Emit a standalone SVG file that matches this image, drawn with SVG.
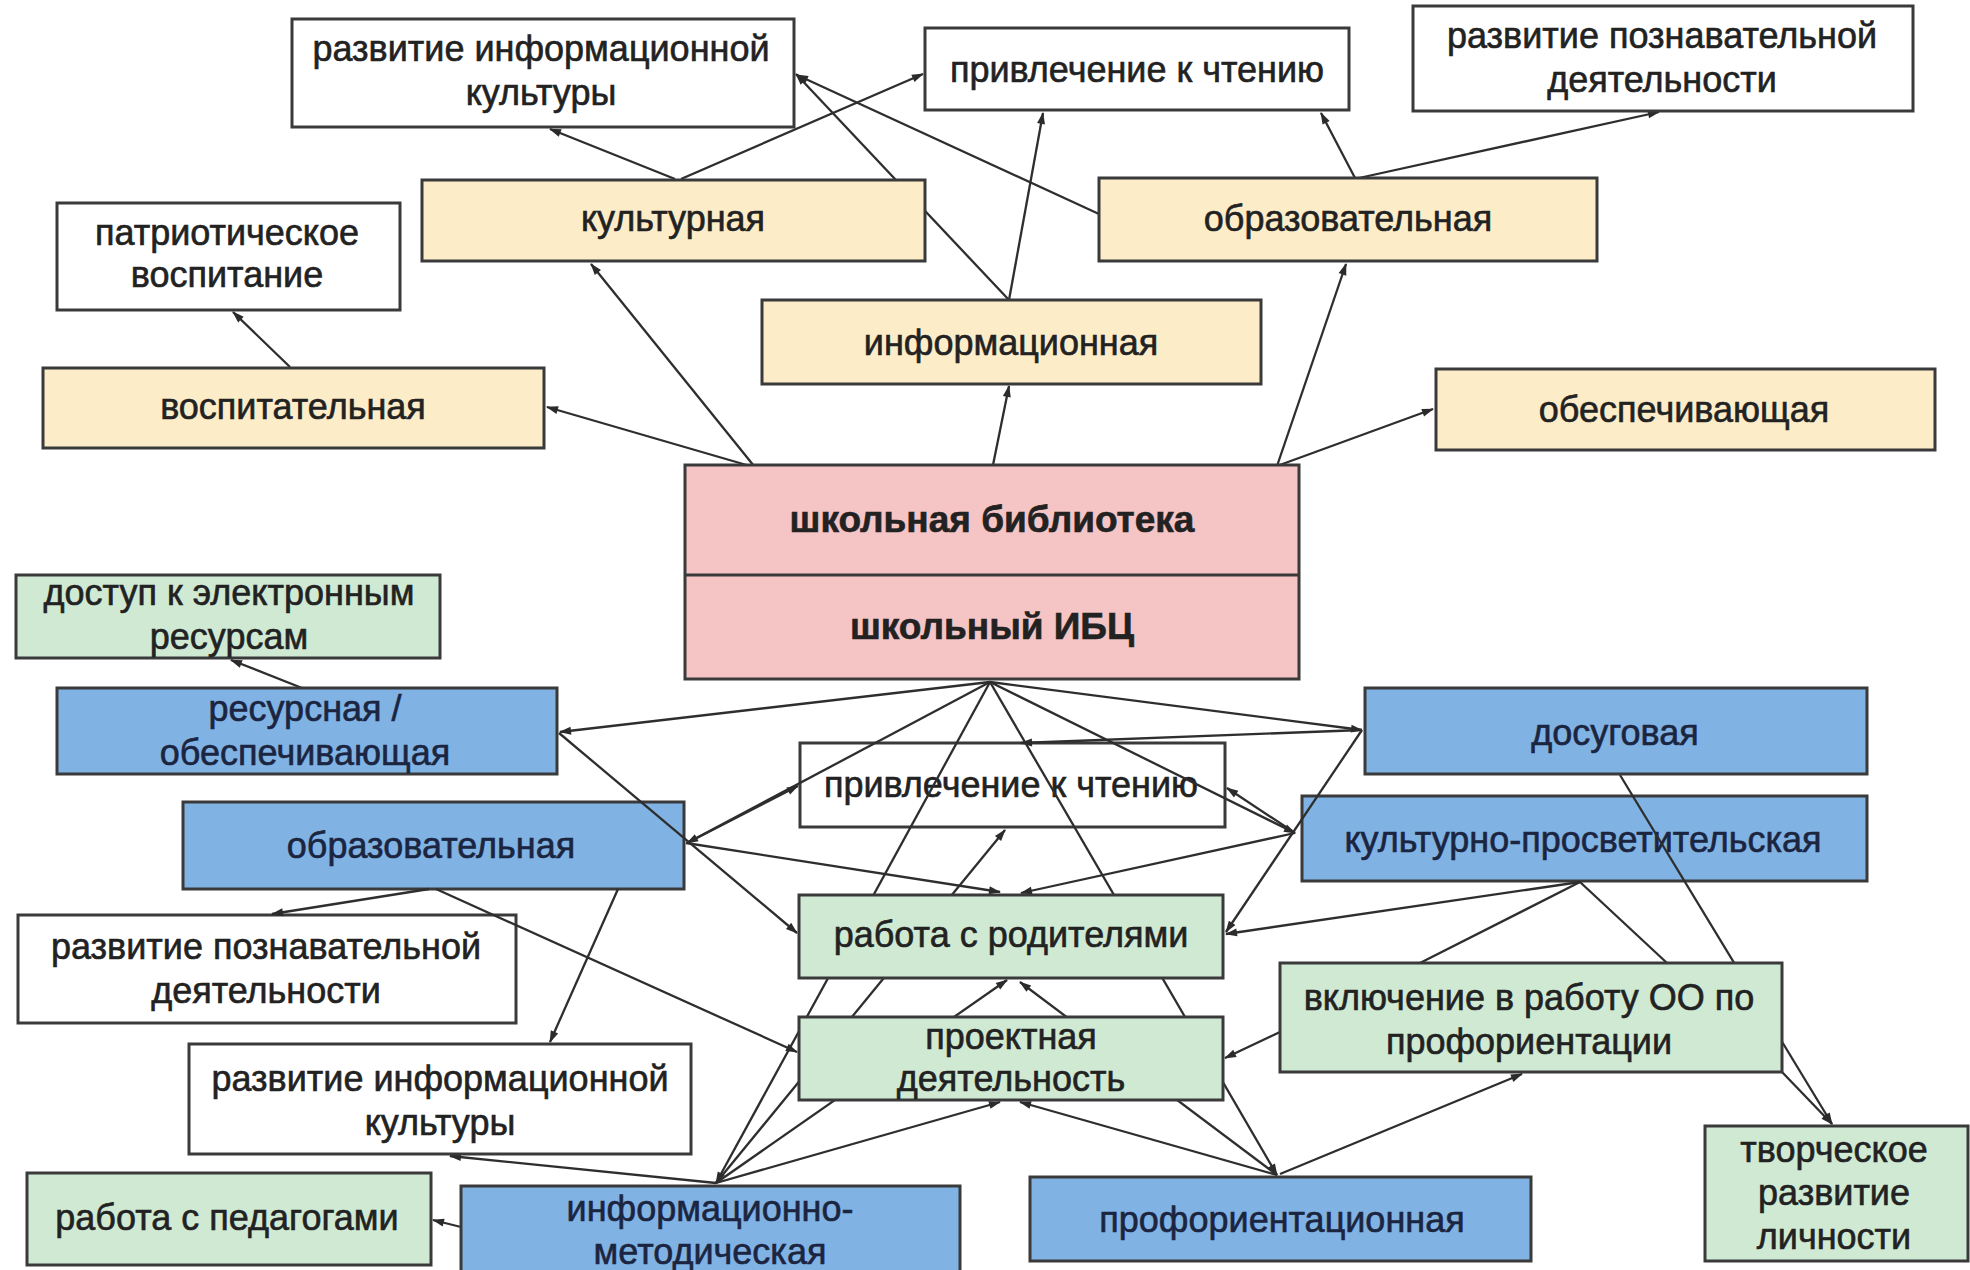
<svg xmlns="http://www.w3.org/2000/svg" width="1970" height="1270" viewBox="0 0 1970 1270">
<style>
.b{stroke:#3a3a3a;stroke-width:3}
.w{fill:#ffffff}
.y{fill:#fcecc8}
.p{fill:#f5c4c5}
.bl{fill:#80b2e4}
.g{fill:#cfe9d3}
.t{font-family:"Liberation Sans",Arial,sans-serif;font-size:36px;fill:#222222;stroke:#222222;stroke-width:0.6;text-anchor:middle}
.tb{fill:#1b2540;stroke:#1b2540}
.bold{font-weight:bold;font-size:37px}
.c line{stroke:#2e2e2e;stroke-width:2.3}
.c .a{marker-end:url(#arr)}
</style>
<defs>
<marker id="arr" viewBox="0 0 12 10" refX="11" refY="5" markerWidth="13" markerHeight="10" markerUnits="userSpaceOnUse" orient="auto"><path d="M0,1 L12,5 L0,9 z" fill="#2b2b2b"/></marker>
</defs>
<rect x="0" y="0" width="1970" height="1270" fill="#ffffff"/>

<g id="n_privl2"><rect class="b w" x="800" y="743" width="425" height="84"/><text class="t" x="1011" y="797">привлечение к чтению</text></g>
<g id="n_kultpros"><rect class="b bl" x="1302" y="796" width="565" height="85"/><text class="t tb" x="1583" y="852">культурно-просветительская</text></g>
<g id="n_obraz2"><rect class="b bl" x="183" y="802" width="501" height="87"/><text class="t tb" x="431" y="858">образовательная</text></g>
<g id="n_razv_pozn2"><rect class="b w" x="18" y="915" width="498" height="108"/><text class="t" x="266" y="959">развитие познавательной</text><text class="t" x="266" y="1003">деятельности</text></g>

<g id="connectors" class="c">
<line class="a" x1="750" y1="466" x2="547" y2="407"/>
<line class="a" x1="754" y1="466" x2="591" y2="264"/>
<line class="a" x1="290" y1="367" x2="233" y2="312"/>
<line class="a" x1="675" y1="179" x2="550" y2="129"/>
<line class="a" x1="681" y1="179" x2="923" y2="74"/>
<line class="a" x1="1009" y1="300" x2="796" y2="74"/>
<line class="a" x1="1099" y1="214" x2="797" y2="75"/>
<line class="a" x1="1009" y1="300" x2="1043" y2="113"/>
<line class="a" x1="1355" y1="178" x2="1321" y2="113"/>
<line class="a" x1="1359" y1="178" x2="1659" y2="112"/>
<line class="a" x1="993" y1="465" x2="1009" y2="386"/>
<line class="a" x1="1277" y1="466" x2="1346" y2="264"/>
<line class="a" x1="1277" y1="466" x2="1433" y2="409"/>
<line class="a" x1="990" y1="682" x2="560" y2="732"/>
<line class="a" x1="302" y1="688" x2="231" y2="660"/>
<line class="a" x1="990" y1="682" x2="1362" y2="730"/>
<line class="a" x1="1362" y1="730" x2="1021" y2="743"/>
<line class="a" x1="990" y1="682" x2="1295" y2="833"/>
<line class="a" x1="1295" y1="833" x2="1227" y2="788"/>
<line class="a" x1="1295" y1="833" x2="1021" y2="893"/>
<line class="a" x1="1362" y1="730" x2="1226" y2="932"/>
<line class="a" x1="1580" y1="882" x2="1226" y2="934"/>
<line class="a" x1="990" y1="682" x2="687" y2="843"/>
<line class="a" x1="689" y1="842" x2="798" y2="786"/>
<line class="a" x1="559" y1="733" x2="797" y2="933"/>
<line class="a" x1="686" y1="843" x2="1000" y2="892"/>
<line class="a" x1="990" y1="682" x2="1277" y2="1175"/>
<line class="a" x1="990" y1="682" x2="716" y2="1183"/>
<line class="a" x1="716" y1="1183" x2="1005" y2="830"/>
<line class="a" x1="716" y1="1183" x2="1007" y2="980"/>
<line class="a" x1="716" y1="1183" x2="1000" y2="1102"/>
<line class="a" x1="1277" y1="1175" x2="1020" y2="982"/>
<line class="a" x1="1277" y1="1175" x2="1020" y2="1102"/>
<line class="a" x1="1280" y1="1174" x2="1522" y2="1074"/>
<line class="a" x1="1280" y1="1032" x2="1225" y2="1058"/>
<line x1="1580" y1="882" x2="1420" y2="963"/>
<line x1="1580" y1="882" x2="1667" y2="963"/>
<line class="a" x1="1620" y1="775" x2="1832" y2="1124"/>
<line class="a" x1="1782" y1="1072" x2="1832" y2="1124"/>
<line class="a" x1="429" y1="889" x2="272" y2="914"/>
<line class="a" x1="436" y1="889" x2="797" y2="1052"/>
<line class="a" x1="618" y1="889" x2="550" y2="1042"/>
<line class="a" x1="716" y1="1183" x2="450" y2="1156"/>
<line class="a" x1="461" y1="1227" x2="433" y2="1220"/>
</g>

<g id="n_razv_info1"><rect class="b w" x="292" y="19" width="502" height="108"/><text class="t" x="541" y="61">развитие информационной</text><text class="t" x="541" y="105">культуры</text></g>
<g id="n_privl1"><rect class="b w" x="925" y="28" width="424" height="82"/><text class="t" x="1137" y="82">привлечение к чтению</text></g>
<g id="n_razv_pozn1"><rect class="b w" x="1413" y="6" width="500" height="105"/><text class="t" x="1662" y="48">развитие познавательной</text><text class="t" x="1662" y="92">деятельности</text></g>
<g id="n_kult"><rect class="b y" x="422" y="180" width="503" height="81"/><text class="t" x="673" y="231">культурная</text></g>
<g id="n_obraz1"><rect class="b y" x="1099" y="178" width="498" height="83"/><text class="t" x="1348" y="231">образовательная</text></g>
<g id="n_patr"><rect class="b w" x="57" y="203" width="343" height="107"/><text class="t" x="227" y="245">патриотическое</text><text class="t" x="227" y="287">воспитание</text></g>
<g id="n_inform"><rect class="b y" x="762" y="300" width="499" height="84"/><text class="t" x="1011" y="355">информационная</text></g>
<g id="n_vosp"><rect class="b y" x="43" y="368" width="501" height="80"/><text class="t" x="293" y="419">воспитательная</text></g>
<g id="n_obesp"><rect class="b y" x="1436" y="369" width="499" height="81"/><text class="t" x="1684" y="422">обеспечивающая</text></g>
<g id="n_hub"><rect class="b p" x="685" y="465" width="614" height="214"/><line x1="685" y1="575" x2="1299" y2="575" stroke="#3a3a3a" stroke-width="3"/><text class="t bold" x="992" y="532">школьная библиотека</text><text class="t bold" x="992" y="639">школьный ИБЦ</text></g>
<g id="n_dostup"><rect class="b g" x="16" y="575" width="424" height="83"/><text class="t" x="229" y="605">доступ к электронным</text><text class="t" x="229" y="649">ресурсам</text></g>
<g id="n_resurs"><rect class="b bl" x="57" y="688" width="500" height="86"/><text class="t tb" x="305" y="721">ресурсная /</text><text class="t tb" x="305" y="765">обеспечивающая</text></g>
<g id="n_dosug"><rect class="b bl" x="1365" y="688" width="502" height="86"/><text class="t tb" x="1615" y="745">досуговая</text></g>
<g id="n_rabrod"><rect class="b g" x="799" y="895" width="424" height="83"/><text class="t" x="1011" y="947">работа с родителями</text></g>
<g id="n_proekt"><rect class="b g" x="799" y="1017" width="424" height="83"/><text class="t" x="1011" y="1049">проектная</text><text class="t" x="1011" y="1091">деятельность</text></g>
<g id="n_vkl"><rect class="b g" x="1280" y="963" width="502" height="109"/><text class="t" x="1529" y="1010">включение в работу ОО по</text><text class="t" x="1529" y="1054">профориентации</text></g>
<g id="n_razv_info2"><rect class="b w" x="189" y="1044" width="502" height="110"/><text class="t" x="440" y="1091">развитие информационной</text><text class="t" x="440" y="1135">культуры</text></g>
<g id="n_pedag"><rect class="b g" x="27" y="1173" width="404" height="92"/><text class="t" x="227" y="1230">работа с педагогами</text></g>
<g id="n_infmet"><rect class="b bl" x="461" y="1186" width="499" height="100"/><text class="t tb" x="710" y="1221">информационно-</text><text class="t tb" x="710" y="1264">методическая</text></g>
<g id="n_proforient"><rect class="b bl" x="1030" y="1177" width="501" height="84"/><text class="t tb" x="1282" y="1232">профориентационная</text></g>
<g id="n_tvorch"><rect class="b g" x="1705" y="1126" width="263" height="135"/><text class="t" x="1834" y="1162">творческое</text><text class="t" x="1834" y="1205">развитие</text><text class="t" x="1834" y="1249">личности</text></g>
</svg>
